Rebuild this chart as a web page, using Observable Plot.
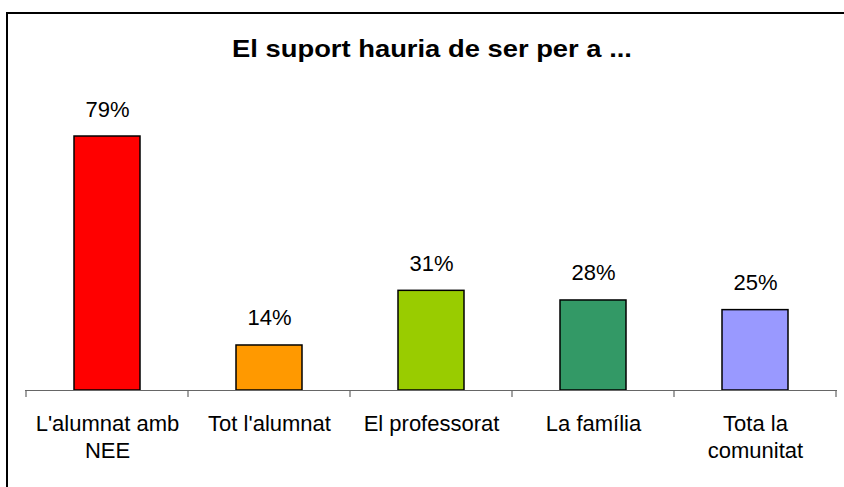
<!DOCTYPE html>
<html>
<head>
<meta charset="utf-8">
<script src="https://cdn.jsdelivr.net/npm/d3@7"></script>
<script src="https://cdn.jsdelivr.net/npm/@observablehq/plot@0.6"></script>
<style>
  html, body { margin: 0; padding: 0; background: #fff; overflow: hidden; }
  #wrap { position: relative; width: 844px; height: 487px; overflow: hidden; font-family: "Liberation Sans", Arial, sans-serif; }
  #frame { position: absolute; left: 6px; top: 12px; width: 900px; height: 600px; border: 2px solid #000; box-sizing: border-box; }
  #title { position: absolute; left: 0; width: 864px; top: 35px; text-align: center; font-weight: bold; font-size: 24px; color: #000; transform: scaleX(1.14); transform-origin: 432px 0; }
  #chart { position: absolute; left: 0; top: 0; }
</style>
</head>
<body>
<div id="wrap">
  <div id="frame"></div>
  <div id="title">El suport hauria de ser per a ...</div>
  <div id="chart"></div>
</div>
<script>
const categories = ["L'alumnat amb NEE", "Tot l'alumnat", "El professorat", "La família", "Tota la comunitat"];
const tickLabels = ["L'alumnat amb\nNEE", "Tot l'alumnat", "El professorat", "La família", "Tota la\ncomunitat"];
const values = [79, 14, 31, 28, 25];
const colors = ["#FF0000", "#FF9900", "#99CC00", "#339966", "#9999FF"];

const data = categories.map((c, i) => ({category: c, value: values[i], color: colors[i]}));

function boundaryTicks() {
  return (index, scales, vals, dims) => {
    const x = scales.x;
    const step = x(categories[1]) - x(categories[0]);
    const bw = x.bandwidth ? x.bandwidth() : 0;
    const gap = (step - bw) / 2;
    const pos = categories.map(c => x(c) - gap);
    pos.push(x(categories[categories.length - 1]) + bw + gap);
    const y0 = dims.height - dims.marginBottom;
    const g = d3.create("svg:g");
    g.selectAll("line").data(pos).join("line")
      .attr("x1", d => d).attr("x2", d => d)
      .attr("y1", y0).attr("y2", y0 + 7)
      .attr("stroke", "#666").attr("stroke-width", 1.2);
    return g.node();
  };
}

const chart = Plot.plot({
  width: 844,
  height: 487,
  marginLeft: 25,
  marginRight: 7,
  marginTop: 68.5,
  marginBottom: 97,
  style: {background: "transparent", fontFamily: "'Liberation Sans', Arial, sans-serif", fontSize: "22px", color: "#000", overflow: "visible"},
  x: {type: "band", domain: categories, paddingInner: 0.594, paddingOuter: 0.297},
  y: {domain: [0, 100], axis: null},
  marks: [
    Plot.barY(data, {x: "category", y: "value", fill: "color", stroke: "#000", strokeWidth: 1.5}),
    Plot.ruleY([0], {stroke: "#666", strokeWidth: 1.2}),
    boundaryTicks(),
    Plot.text(data, {x: "category", y: "value", text: d => d.value + "%", lineAnchor: "bottom", dy: -20, fontSize: 22, fill: "#000"}),
    Plot.axisX({
      domain: categories,
      tickSize: 0,
      tickPadding: 22,
      tickFormat: d => tickLabels[categories.indexOf(d)],
      fontSize: 22,
      lineHeight: 1.2,
      fill: "#000",
      label: null
    })
  ]
});
document.getElementById("chart").appendChild(chart);
</script>
</body>
</html>
